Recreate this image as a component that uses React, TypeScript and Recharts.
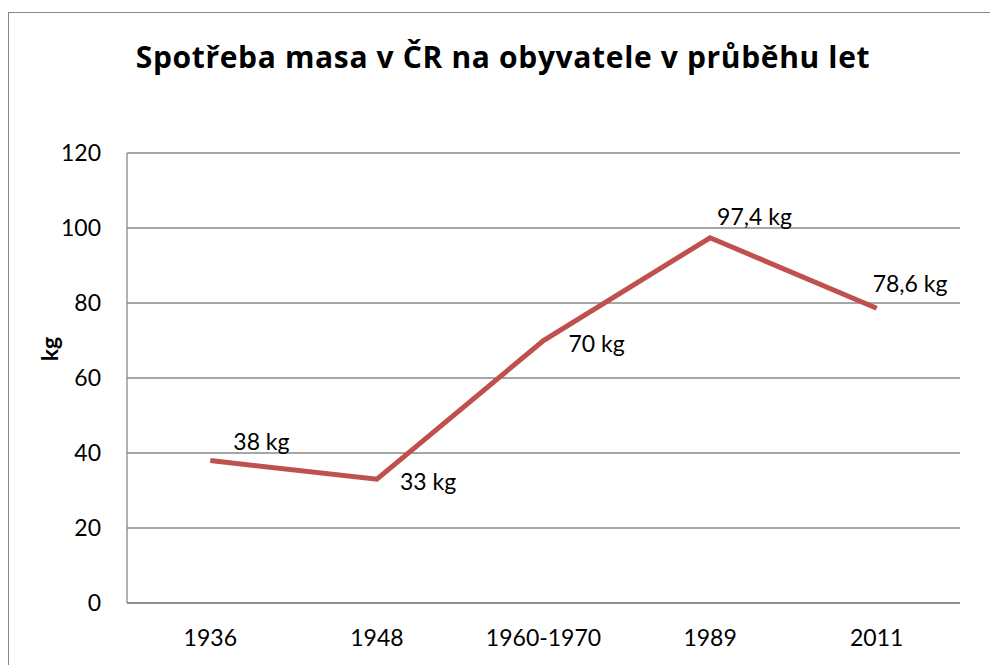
import { LineChart, Line, XAxis, YAxis, CartesianGrid, LabelList } from 'recharts';

const years = ['1936', '1948', '1960-1970', '1989', '2011'];
const consumption = [38, 33, 70, 97.4, 78.6];
const yTicks = [0, 20, 40, 60, 80, 100, 120];

const data = years.map((year, i) => ({ year, kg: consumption[i] }));

// hand-placed label offsets (left edge, vertical centre) like in the original sheet
const labelOffsets = [
  [23, -20],
  [23, 2],
  [25, 2],
  [7, -22],
  [-4, -25],
];

const FONT = 'Lato, "Open Sans", sans-serif';

const renderLabel = (props: any) => {
  const { x, y, value, index } = props;
  const [dx, dy] = labelOffsets[index] || [0, 0];
  const txt = String(value).replace('.', ',') + ' kg';
  return (
    <text x={x + dx} y={y + dy} fill="#000" fontSize={23} fontFamily={FONT} dominantBaseline="central">
      {txt}
    </text>
  );
};

export default function App() {
  return (
    <div style={{ position: 'relative', width: 990, height: 665, overflow: 'hidden', background: '#fff' }}>
      <style>{`body{margin:0;overflow:hidden}`}</style>
      <div style={{ position: 'absolute', left: 8, top: 12, width: 1200, height: 900, border: '1px solid #868686' }} />
      <div
        style={{
          position: 'absolute', left: 503, top: 56, transform: 'translate(-50%, -50%)',
          fontFamily: '"Open Sans", Lato, sans-serif', fontWeight: 700, fontSize: 30, letterSpacing: 0.65,
          whiteSpace: 'nowrap', color: '#000',
        }}
      >
        Spotřeba masa v ČR na obyvatele v průběhu let
      </div>
      <div
        style={{
          position: 'absolute', left: 49, top: 349, transform: 'translate(-50%, -50%) rotate(-90deg)',
          fontFamily: FONT, fontWeight: 700, fontSize: 23, color: '#000',
        }}
      >
        kg
      </div>
      <div style={{ position: 'absolute', left: 0, top: 0 }}>
        <LineChart width={990} height={665} data={data} margin={{ top: 153, right: 30, bottom: 0, left: 0 }}>
          <CartesianGrid vertical={false} stroke="#888" strokeWidth={1.3} />
          <XAxis
            dataKey="year"
            scale="band"
            height={62}
            tickLine={false}
            tickSize={0}
            tickMargin={27}
            axisLine={{ stroke: '#888', strokeWidth: 1.3 }}
            tick={{ fill: '#000', fontSize: 23, fontFamily: FONT }}
          />
          <YAxis
            width={127}
            domain={[0, 120]}
            ticks={yTicks}
            tickLine={false}
            tickSize={0}
            tickMargin={26}
            axisLine={{ stroke: '#888', strokeWidth: 1.3 }}
            tick={{ fill: '#000', fontSize: 23, fontFamily: FONT }}
          />
          <Line
            type="linear"
            dataKey="kg"
            stroke="#C0504D"
            strokeWidth={5}
            dot={false}
            isAnimationActive={false}
          >
            <LabelList dataKey="kg" content={renderLabel} />
          </Line>
        </LineChart>
      </div>
    </div>
  );
}
